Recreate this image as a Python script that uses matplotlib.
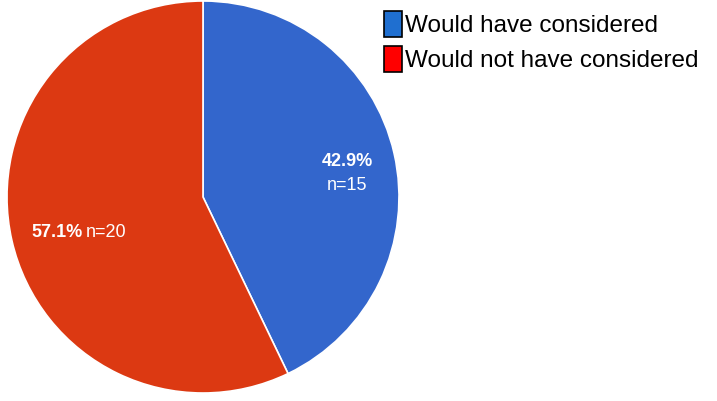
import matplotlib.pyplot as plt
from matplotlib.patches import Patch

# Data
labels = ['Would have considered', 'Would not have considered']
counts = [15, 20]
pie_colors = ['#3366CC', '#DC3912']
legend_colors = ['#1F6FD0', '#FF0000']

total = float(sum(counts))
pcts = [100.0 * c / total for c in counts]

fig = plt.figure(figsize=(7.17, 4.01), dpi=100)
ax = fig.add_axes([7 / 717., 8 / 401., 392 / 717., 392 / 401.])

wedges, _ = ax.pie(counts, colors=pie_colors, startangle=90, counterclock=False,
                   wedgeprops=dict(edgecolor='white', linewidth=1.2))
ax.set_aspect('equal')
ax.set_xlim(-1.0, 1.0)
ax.set_ylim(-1.0, 1.0)

# Slice labels
ax.text(0.735, 0.18, '%.1f%%' % pcts[0], color='white', fontsize=13,
        fontweight='bold', ha='center', va='center', family='Liberation Sans')
ax.text(0.735, 0.06, 'n=%d' % counts[0], color='white', fontsize=13,
        ha='center', va='center', family='Liberation Sans')
ax.text(-0.615, -0.18, '%.1f%%' % pcts[1], color='white', fontsize=13,
        fontweight='bold', ha='right', va='center', family='Liberation Sans')
ax.text(-0.597, -0.18, 'n=%d' % counts[1], color='white', fontsize=13,
        ha='left', va='center', family='Liberation Sans')

# Legend
handles = [Patch(facecolor=c, edgecolor='black', linewidth=1.2) for c in legend_colors]
lg = fig.legend(handles, labels, loc='upper left', bbox_to_anchor=(374 / 717., 1 - 1 / 401.),
                frameon=False, handlelength=0.75, handleheight=1.3,
                handletextpad=0.12, labelspacing=0.35, borderaxespad=0,
                prop={'family': 'Liberation Sans', 'size': 17.5})

fig.savefig('out.png', dpi=100)
